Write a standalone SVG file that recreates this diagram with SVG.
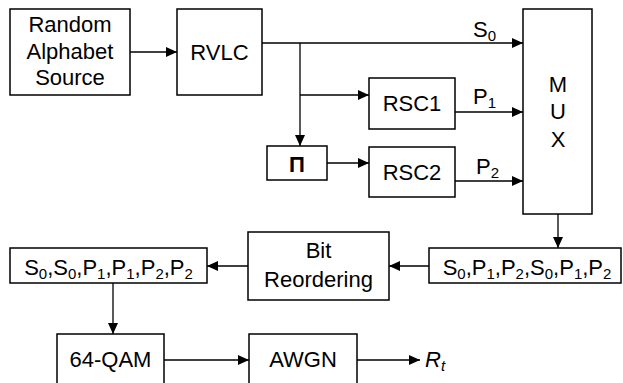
<svg xmlns="http://www.w3.org/2000/svg" width="623" height="383" viewBox="0 0 623 383">
<style>
  rect.box { fill: #fff; stroke: #000; stroke-width: 1.5; }
  text { font-family: "Liberation Sans", Arial, sans-serif; font-size: 22px; fill: #000; }
  .c { text-anchor: middle; }
  .sub { font-size: 15px; }
  .conn line, .conn polyline { stroke: #000; stroke-width: 1.3; fill: none; }
</style>
<defs>
  <marker id="ah" markerUnits="userSpaceOnUse" markerWidth="12" markerHeight="10" refX="11" refY="5" orient="auto">
    <path d="M0,0 L11,5 L0,10 z" fill="#000"/>
  </marker>
</defs>
<g class="conn">
  <line x1="130" y1="52" x2="177" y2="52" marker-end="url(#ah)"/>
  <line x1="262" y1="43" x2="523" y2="43" marker-end="url(#ah)"/>
  <line x1="300" y1="43" x2="300" y2="146" marker-end="url(#ah)"/>
  <line x1="300" y1="95" x2="369" y2="95" marker-end="url(#ah)"/>
  <line x1="327" y1="163" x2="369" y2="163" marker-end="url(#ah)"/>
  <line x1="455" y1="112" x2="523" y2="112" marker-end="url(#ah)"/>
  <line x1="455" y1="181" x2="523" y2="181" marker-end="url(#ah)"/>
  <line x1="558" y1="214" x2="558" y2="248" marker-end="url(#ah)"/>
  <line x1="429" y1="266" x2="389" y2="266" marker-end="url(#ah)"/>
  <line x1="248" y1="266" x2="207" y2="266" marker-end="url(#ah)"/>
  <line x1="113" y1="283" x2="113" y2="334" marker-end="url(#ah)"/>
  <line x1="164" y1="360" x2="249" y2="360" marker-end="url(#ah)"/>
  <line x1="357" y1="360" x2="420" y2="360" marker-end="url(#ah)"/>
  <text x="473" y="37">S<tspan class="sub" dy="4">0</tspan></text>
  <text x="473" y="104">P<tspan class="sub" dy="4">1</tspan></text>
  <text x="476" y="174">P<tspan class="sub" dy="4">2</tspan></text>
  <text x="425" y="367" font-style="italic">R<tspan class="sub" dy="4">t</tspan></text>
</g>
<g id="source">
  <rect class="box" x="10" y="9" width="120" height="86"/>
  <text class="c" x="70" y="32">Random</text>
  <text class="c" x="70" y="59">Alphabet</text>
  <text class="c" x="70" y="85">Source</text>
</g>
<g id="rvlc">
  <rect class="box" x="177" y="9" width="85" height="86"/>
  <text class="c" x="219.5" y="60">RVLC</text>
</g>
<g id="interleaver">
  <rect class="box" x="267" y="146" width="60" height="34"/>
  <text class="c" x="297" y="172" font-weight="bold">Π</text>
</g>
<g id="rsc1">
  <rect class="box" x="369" y="78" width="86" height="51"/>
  <text class="c" x="412" y="111">RSC1</text>
</g>
<g id="rsc2">
  <rect class="box" x="369" y="147" width="86" height="50"/>
  <text class="c" x="412" y="180">RSC2</text>
</g>
<g id="mux">
  <rect class="box" x="523" y="9" width="69" height="205"/>
  <text class="c" x="558" y="92">M</text>
  <text class="c" x="558" y="119">U</text>
  <text class="c" x="558" y="147">X</text>
</g>
<g id="muxout">
  <rect class="box" x="429" y="248" width="192" height="35"/>
  <text class="c" x="527" y="275">S<tspan class="sub" dy="4">0</tspan><tspan dy="-4">,P</tspan><tspan class="sub" dy="4">1</tspan><tspan dy="-4">,P</tspan><tspan class="sub" dy="4">2</tspan><tspan dy="-4">,S</tspan><tspan class="sub" dy="4">0</tspan><tspan dy="-4">,P</tspan><tspan class="sub" dy="4">1</tspan><tspan dy="-4">,P</tspan><tspan class="sub" dy="4">2</tspan></text>
</g>
<g id="reorder">
  <rect class="box" x="248" y="232" width="141" height="68"/>
  <text class="c" x="318.5" y="258">Bit</text>
  <text class="c" x="318.5" y="287">Reordering</text>
</g>
<g id="reordered">
  <rect class="box" x="10" y="248" width="197" height="35"/>
  <text class="c" x="108.5" y="275">S<tspan class="sub" dy="4">0</tspan><tspan dy="-4">,S</tspan><tspan class="sub" dy="4">0</tspan><tspan dy="-4">,P</tspan><tspan class="sub" dy="4">1</tspan><tspan dy="-4">,P</tspan><tspan class="sub" dy="4">1</tspan><tspan dy="-4">,P</tspan><tspan class="sub" dy="4">2</tspan><tspan dy="-4">,P</tspan><tspan class="sub" dy="4">2</tspan></text>
</g>
<g id="qam">
  <rect class="box" x="57" y="334" width="107" height="60"/>
  <text class="c" x="110.5" y="367">64-QAM</text>
</g>
<g id="awgn">
  <rect class="box" x="249" y="334" width="108" height="60"/>
  <text class="c" x="303" y="367">AWGN</text>
</g>
</svg>
